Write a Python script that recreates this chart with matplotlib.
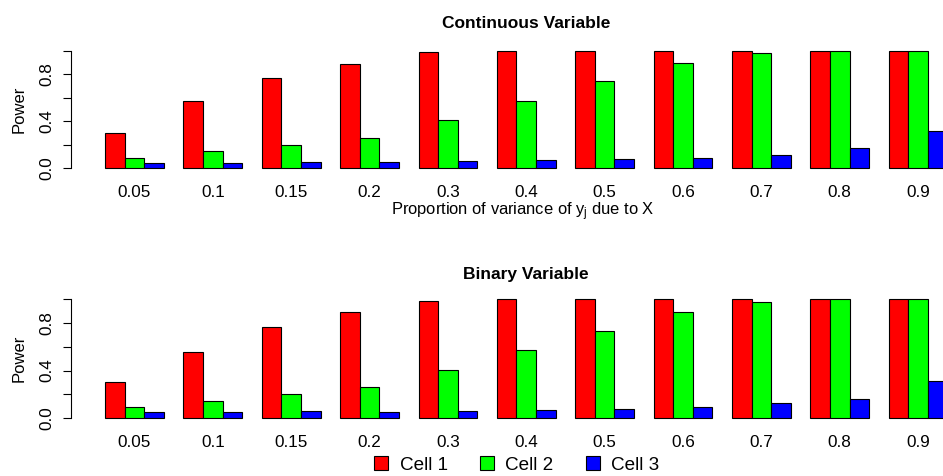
import matplotlib
matplotlib.use("Agg")
import matplotlib.pyplot as plt
from matplotlib.patches import Patch

plt.rcParams['font.family'] = ['Liberation Sans', 'DejaVu Sans']

props = ["0.05", "0.1", "0.15", "0.2", "0.3", "0.4", "0.5", "0.6", "0.7", "0.8", "0.9"]
cells = ["Cell 1", "Cell 2", "Cell 3"]
colors = ["#ff0000", "#00ff00", "#0000ff"]

# power per cell, continuous X
cont_cell1 = [0.30, 0.57, 0.77, 0.89, 0.986, 1.0, 1.0, 1.0, 1.0, 1.0, 1.0]
cont_cell2 = [0.088, 0.147, 0.198, 0.257, 0.407, 0.571, 0.74, 0.898, 0.98, 1.0, 1.0]
cont_cell3 = [0.045, 0.048, 0.051, 0.056, 0.062, 0.071, 0.076, 0.09, 0.116, 0.169, 0.319]

# power per cell, binary X
bin_cell1 = [0.306, 0.559, 0.77, 0.896, 0.986, 1.0, 1.0, 1.0, 1.0, 1.0, 1.0]
bin_cell2 = [0.093, 0.14, 0.202, 0.258, 0.404, 0.570, 0.736, 0.893, 0.975, 1.0, 1.0]
bin_cell3 = [0.048, 0.048, 0.056, 0.053, 0.062, 0.067, 0.079, 0.096, 0.124, 0.163, 0.315]

panels = [
    ("Continuous Variable", [cont_cell1, cont_cell2, cont_cell3], [0.0756, 0.6366, 0.965, 0.2668], 13),
    ("Binary Variable", [bin_cell1, bin_cell2, bin_cell3], [0.0756, 0.1120, 0.965, 0.2690], 11),
]

fig = plt.figure(figsize=(9.43, 4.76), dpi=100)

for title, series, pos, tpad in panels:
    ax = fig.add_axes(pos)
    for j, vals in enumerate(series):
        lefts = [1 + 4 * g + j for g in range(len(props))]
        ax.bar(lefts, vals, width=1, align='edge', color=colors[j],
               edgecolor='black', linewidth=0.8)
    ax.set_xlim(-0.72, 45.72)
    ax.set_ylim(-0.04, 1.04)
    ax.set_xticks([1 + 4 * g + 1.5 for g in range(len(props))])
    ax.set_xticklabels(props, fontsize=12.3)
    ax.tick_params(axis='x', length=0, pad=9)
    ax.set_yticks([0, 0.2, 0.4, 0.6, 0.8, 1.0])
    ax.set_yticklabels(["0.0", "", "0.4", "", "0.8", ""], rotation=90,
                       va='center', fontsize=12.3)
    ax.tick_params(axis='y', length=6, width=0.8, pad=6)
    for s in ['top', 'right', 'bottom']:
        ax.spines[s].set_visible(False)
    ax.spines['left'].set_bounds(0, 1)
    ax.spines['left'].set_linewidth(0.8)
    ax.set_ylabel("Power", fontsize=12, labelpad=9)
    ax.set_title(title, fontsize=12.5, fontweight='bold', pad=tpad)

fig.text(0.554, 1 - 212 / 476, r"Proportion of variance of $\mathregular{y_j}$ due to X",
         ha='center', va='center', fontsize=11.9)

handles = [Patch(facecolor=c, edgecolor='black', linewidth=0.8) for c in colors]
fig.legend(handles, cells, loc='center', bbox_to_anchor=(0.548, 1 - 465 / 476),
           ncol=3, frameon=False, fontsize=13.6, handlelength=0.75, handleheight=0.75,
           columnspacing=1.7, handletextpad=0.6, borderpad=0.2)

fig.savefig("out.png", dpi=100)
